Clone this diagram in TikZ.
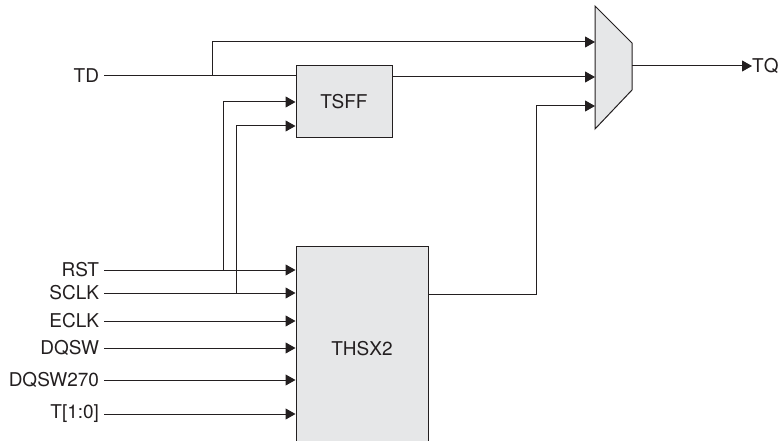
\documentclass[tikz,border=0pt]{standalone}
\usepackage{fontspec}
\setmainfont{TeX Gyre Heros}
\usetikzlibrary{arrows.meta}
\definecolor{ink}{HTML}{231F20}
\definecolor{boxfill}{HTML}{E6E7E8}
\begin{document}
\begin{tikzpicture}[x=1pt,y=-1pt,
  every node/.style={font=\fontsize{19}{21}\selectfont, text=ink},
  wire/.style={draw=ink, line width=1pt},
  sig/.style={wire, -{Triangle[length=10pt,width=11pt]}},
  blk/.style={draw=ink, line width=1pt, fill=boxfill, inner sep=0pt},
  lbl/.style={anchor=east, inner sep=0pt, outer sep=0pt}]
\useasboundingbox (0,0) rectangle (782,441);
% blocks
\node[blk, minimum width=96pt, minimum height=72pt] (tsff) at (344,102) {TSFF};
\node[blk, minimum width=132pt, minimum height=206pt] (thsx) at (362,349) {THSX2};
\coordinate (m1) at (595,6);
\coordinate (m2) at (632,43);
\coordinate (m3) at (632,90);
\coordinate (m4) at (595,129);
\filldraw[blk] (m1) -- (m2) -- (m3) -- (m4) -- cycle;
% labels
\node[lbl] (td) at (99,76) {TD};
\node[lbl] (rst) at (99,270) {RST};
\node[lbl] (sclk) at (99,293) {SCLK};
\node[lbl] (eclk) at (99,321) {ECLK};
\node[lbl] (dqsw) at (99,348) {DQSW};
\node[lbl] (dqsw270) at (99,380) {DQSW270};
\node[lbl] (t10) at (99,414) {T[1:0]};
\node[anchor=west, inner sep=0pt] (tq) at (752,66) {TQ};
% TD path
\coordinate (tdj) at (212,76);
\draw[wire] ([xshift=5pt]td.east) -- (td -| tsff.west);
\draw[sig] (tdj) -- (212,42) -- (595,42);
\draw[sig] (392,77) -- (595,77);
% inputs to THSX2
\draw[sig] ([xshift=5pt]rst.east) -- (rst -| thsx.west);
\draw[sig] ([xshift=5pt]sclk.east) -- (sclk -| thsx.west);
\draw[sig] ([xshift=5pt]eclk.east) -- (eclk -| thsx.west);
\draw[sig] ([xshift=5pt]dqsw.east) -- (dqsw -| thsx.west);
\draw[sig] ([xshift=5pt]dqsw270.east) -- (dqsw270 -| thsx.west);
\draw[sig] ([xshift=5pt]t10.east) -- (t10 -| thsx.west);
% RST, SCLK to TSFF
\draw[sig] (223,270) -- (223,102) -- (tsff.west |- 0,102);
\draw[sig] (236,293) -- (236,126) -- (tsff.west |- 0,126);
% THSX2 output
\draw[sig] (thsx.east |- 0,294) -- (536,294) -- (536,106) -- (595,106);
% mux output
\draw[sig] (632,66) -- (tq.west);
\end{tikzpicture}
\end{document}
